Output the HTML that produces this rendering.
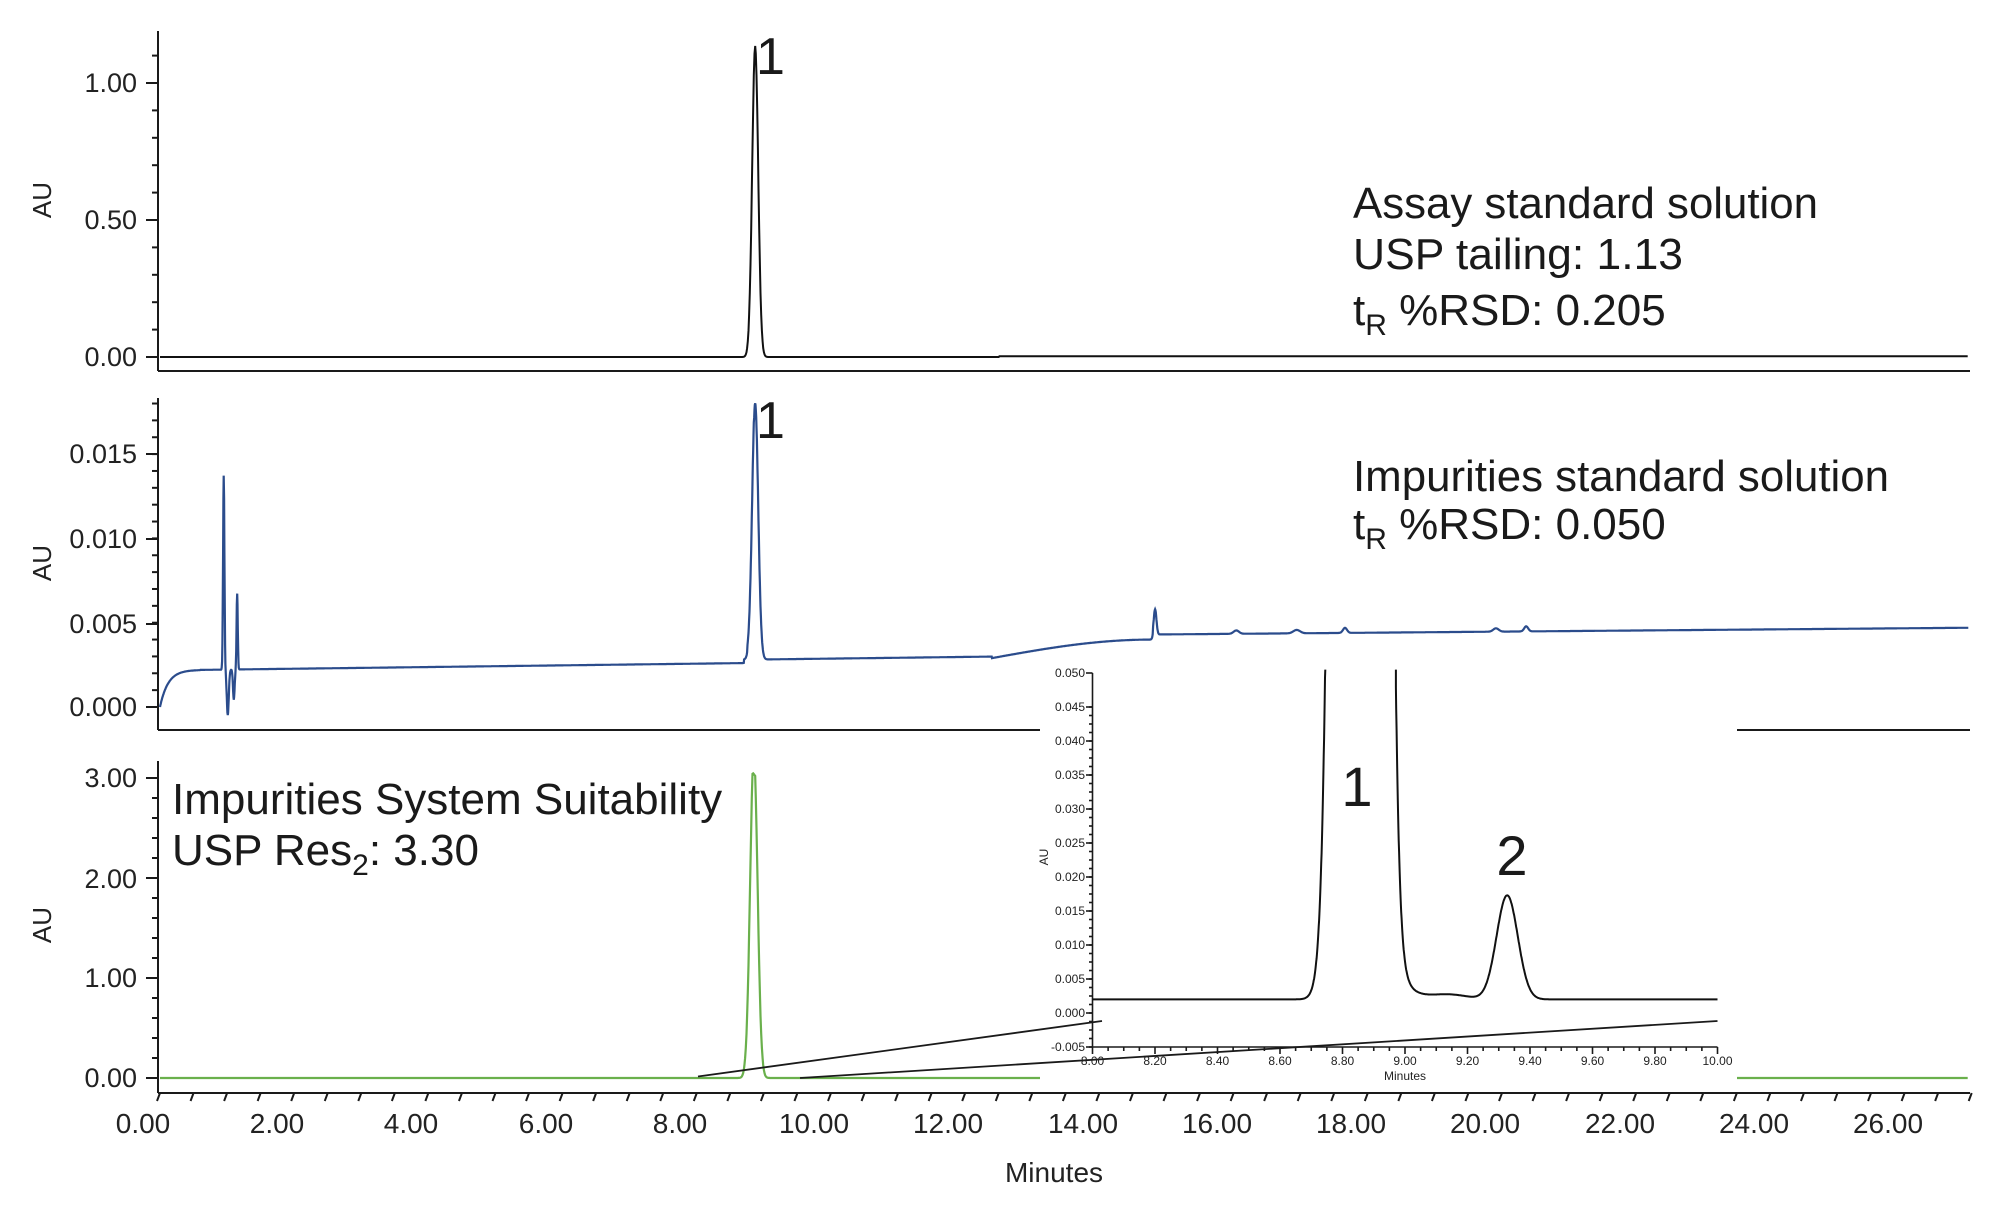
<!DOCTYPE html>
<html><head><meta charset="utf-8"><style>
html,body{margin:0;padding:0;background:#fff;}
svg{display:block;font-family:"Liberation Sans",Arial,sans-serif;}
</style></head><body>
<svg id="s" width="2000" height="1207" viewBox="0 0 2000 1207" xmlns="http://www.w3.org/2000/svg">
<g id="axes" stroke="#1a1a1a" stroke-width="2" fill="none"></g>
<path id="top" fill="none" stroke="#111" stroke-width="2"/>
<path id="mid" fill="none" stroke="#2b4c8c" stroke-width="2.2"/>
<path id="bot" fill="none" stroke="#6ab04c" stroke-width="2.2"/>
<g fill="#222" font-size="27" text-anchor="end">
<text x="137" y="92">1.00</text><text x="137" y="229">0.50</text><text x="137" y="366">0.00</text>
<text x="137" y="463">0.015</text><text x="137" y="548">0.010</text><text x="137" y="633">0.005</text><text x="137" y="716">0.000</text>
<text x="137" y="787">3.00</text><text x="137" y="888">2.00</text><text x="137" y="987">1.00</text><text x="137" y="1087">0.00</text>
</g>
<g fill="#222" font-size="26">
<text transform="translate(51,200) rotate(-90)" text-anchor="middle">AU</text>
<text transform="translate(51,563) rotate(-90)" text-anchor="middle">AU</text>
<text transform="translate(51,925) rotate(-90)" text-anchor="middle">AU</text>
</g>
<g fill="#222" font-size="28" text-anchor="middle" id="xl">
<text x="143" y="1133">0.00</text><text x="277" y="1133">2.00</text><text x="411" y="1133">4.00</text><text x="546" y="1133">6.00</text><text x="680" y="1133">8.00</text><text x="814" y="1133">10.00</text><text x="948" y="1133">12.00</text><text x="1083" y="1133">14.00</text><text x="1217" y="1133">16.00</text><text x="1351" y="1133">18.00</text><text x="1485" y="1133">20.00</text><text x="1620" y="1133">22.00</text><text x="1754" y="1133">24.00</text><text x="1888" y="1133">26.00</text>
</g>
<text x="1054" y="1182" font-size="28" fill="#222" text-anchor="middle">Minutes</text>
<g fill="#1a1a1a" font-size="44">
<text x="1353" y="218" textLength="465" lengthAdjust="spacingAndGlyphs">Assay standard solution</text>
<text x="1353" y="269" textLength="330" lengthAdjust="spacingAndGlyphs">USP tailing: 1.13</text>
<text x="1353" y="325">t<tspan font-size="30" dy="10">R</tspan><tspan dy="-10"> %RSD: 0.205</tspan></text>
<text x="1353" y="491" textLength="536" lengthAdjust="spacingAndGlyphs">Impurities standard solution</text>
<text x="1353" y="539">t<tspan font-size="30" dy="10">R</tspan><tspan dy="-10"> %RSD: 0.050</tspan></text>
<text x="172" y="814">Impurities System Suitability</text>
<text x="172" y="865">USP Res<tspan font-size="30" dy="10">2</tspan><tspan dy="-10">: 3.30</tspan></text>
<text x="756" y="74" font-size="52">1</text>
<text x="756" y="438" font-size="52">1</text>
</g>
<!-- inset -->
<rect x="1040" y="662" width="697" height="418" fill="#fff"/>
<g stroke="#1a1a1a" stroke-width="1.8" fill="none">
<line x1="698" y1="1076.5" x2="1102" y2="1021"/>
<line x1="800" y1="1078" x2="1717.5" y2="1021"/>
</g>
<g id="inax" stroke="#1a1a1a" stroke-width="1.6" fill="none"></g>
<path id="inp" fill="none" stroke="#111" stroke-width="2"/>
<g fill="#222" font-size="12" text-anchor="end" id="inyl"></g>
<g fill="#222" font-size="12" text-anchor="middle" id="inxl"></g>
<text x="1405" y="1080" font-size="12" fill="#222" text-anchor="middle">Minutes</text>
<text transform="translate(1048,857) rotate(-90)" font-size="12" fill="#222" text-anchor="middle">AU</text>
<text x="1357" y="806" font-size="56" fill="#1a1a1a" text-anchor="middle">1</text>
<text x="1512" y="875" font-size="56" fill="#1a1a1a" text-anchor="middle">2</text>
<script>
(function(){
var NS="http://www.w3.org/2000/svg";
var TMAX=26.95;
function X(t){return 160+67.1*t;}
function g(t,m,s,h){return h*Math.exp(-0.5*Math.pow((t-m)/s,2));}
function el(p,n,a){var e=document.createElementNS(NS,n);for(var k in a)e.setAttribute(k,a[k]);document.getElementById(p).appendChild(e);return e;}
var ax="axes";
function yaxis(top,bot,minorStart,minorStep,majors){
 el(ax,"line",{x1:158,y1:top,x2:158,y2:bot});
 for(var y=minorStart;y>top;y-=minorStep)el(ax,"line",{x1:152,y1:y,x2:158,y2:y});
 majors.forEach(function(y){el(ax,"line",{x1:146,y1:y,x2:158,y2:y});});
}
el(ax,"line",{x1:158,y1:371,x2:1970,y2:371});
yaxis(31,371,357,27.4,[83,220,357]);
el(ax,"line",{x1:158,y1:730,x2:1045,y2:730});
el(ax,"line",{x1:1729,y1:730,x2:1970,y2:730});
yaxis(398,730,707,16.86,[454,539,624,707]);
el(ax,"line",{x1:158,y1:1093,x2:1970,y2:1093});
yaxis(761,1093,1078,20,[778,878,978,1078]);
for(var t=0;t<=27.0;t+=0.5){var x=X(t);el(ax,"line",{x1:x,y1:1093,x2:x-3,y2:1101});}
var d="";
for(var t=0;t<=TMAX;t+=0.01){var v=g(t,8.87,0.045,1.135)+(t>12.5?0.003:0);d+=(d?"L":"M")+X(t).toFixed(1)+","+(357-v*274).toFixed(1);}
document.getElementById("top").setAttribute("d",d);
d="";
for(var t=0;t<=TMAX;t+=0.005){
 var b;
 if(t<0.6)b=0.0022*(1-Math.exp(-t/0.12));
 else if(t<12.4)b=0.0022+(t-0.6)*0.00005+(t>8.7?0.0002:0);
 else if(t<14.8){var u=(t-12.4)/2.4;b=0.0029+0.0011*Math.sin(u*Math.PI/2);}
 else b=0.0043+(t-14.8)/12.15*0.0004;
 var v=b+g(t,0.95,0.01,0.0115)+g(t,1.15,0.009,0.0045)-g(t,1.01,0.015,0.0027)-g(t,1.1,0.012,0.0018)
 +g(t,8.87,0.045,0.0152)+g(t,14.83,0.02,0.0015)+g(t,16.04,0.04,0.0002)+g(t,16.94,0.05,0.0002)+g(t,17.66,0.03,0.0003)+g(t,19.91,0.04,0.0002)+g(t,20.36,0.03,0.0003);
 if(t>8.75&&t<8.85)v+=0.0003;
 d+=(d?"L":"M")+X(t).toFixed(1)+","+(707-v*16860).toFixed(1);}
document.getElementById("mid").setAttribute("d",d);
d="";
for(var t=0;t<=TMAX;t+=0.01){var v=Math.min(g(t,8.85,0.055,3.25),3.0+g(t,8.83,0.03,0.05));d+=(d?"L":"M")+X(t).toFixed(1)+","+(1078-v*100).toFixed(1);}
document.getElementById("bot").setAttribute("d",d);
function IX(t){return 1092.5+(t-8)*312.5;}
function IY(v){return 1013-v*6800;}
el("inax","line",{x1:1092.5,y1:673,x2:1092.5,y2:1047});
el("inax","line",{x1:1092.5,y1:1047,x2:1717.5,y2:1047});
for(var i=0;i<=11;i++){var v=-0.005+i*0.005,y=IY(v);el("inax","line",{x1:1086,y1:y,x2:1092.5,y2:y});
 var tx=el("inyl","text",{x:1085,y:y+4});tx.textContent=v.toFixed(3);}
for(var i=0;i<=40;i++){var y=IY(-0.005+i*0.00125);el("inax","line",{x1:1089,y1:y,x2:1092.5,y2:y});}
for(var i=0;i<=40;i++){var x=IX(8+i*0.05);el("inax","line",{x1:x,y1:1047,x2:x,y2:(i%4==0)?1054:1051});}
for(var i=0;i<=10;i++){var t=8+i*0.2;var tx=el("inxl","text",{x:IX(t),y:1065});tx.textContent=t.toFixed(2);}
d="";var up=false;
for(var t=8;t<=10.0001;t+=0.001){
 var v=0.002+g(t,8.865,t<8.865?0.042:0.036,3)+(t>8.95?0.012*Math.exp(-(t-8.95)/0.035):0)+g(t,9.14,0.06,0.0007)+g(t,9.327,0.034,0.0153);
 if(v>0.0505){if(!up){d+="L"+IX(t).toFixed(1)+","+IY(0.0505).toFixed(1);up=true;}continue;}
 if(up){d+="M"+IX(t).toFixed(1)+","+IY(0.0505).toFixed(1);up=false;}
 d+=(d?"L":"M")+IX(t).toFixed(1)+","+IY(v).toFixed(1);}
document.getElementById("inp").setAttribute("d",d);
})();
</script>
</svg>
</body></html>
